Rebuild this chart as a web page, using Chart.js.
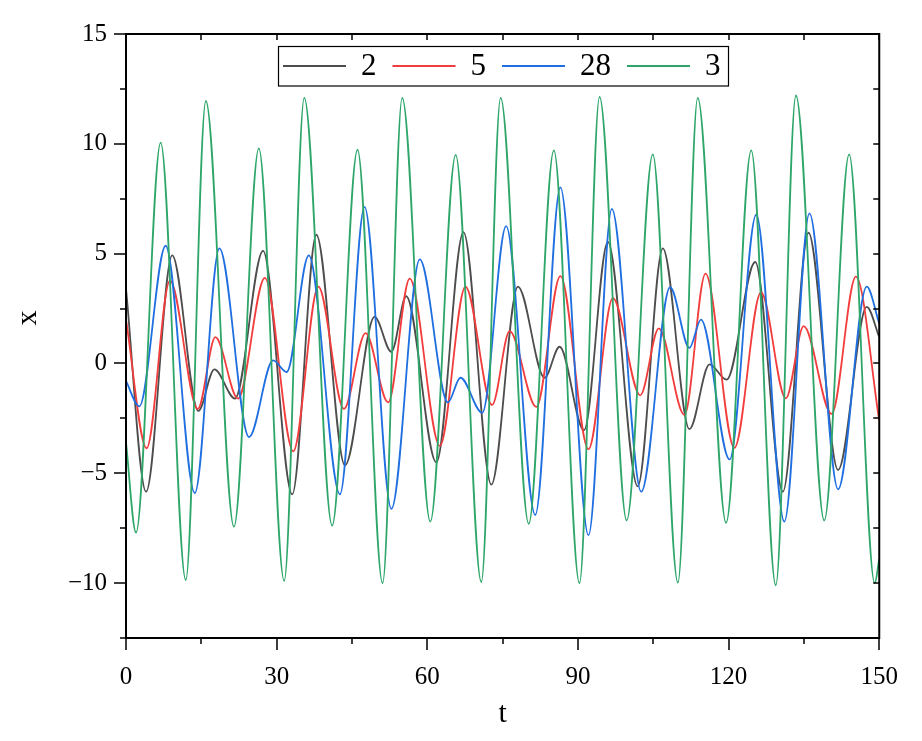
<!DOCTYPE html>
<html>
<head>
<meta charset="utf-8">
<script src="https://cdn.jsdelivr.net/npm/chart.js@4"></script>
<style>
html,body{margin:0;padding:0;background:#fff;}
#wrap{width:922px;height:741px;position:relative;}
</style>
</head>
<body>
<div id="wrap"><canvas id="c" width="922" height="741"></canvas></div>
<script>
// ---- data (extrema of each curve) ----
const labels = ['2', '5', '28', '3'];
const colors = ['#4d4d4d', '#f23d3d', '#1f6fe0', '#2ea66a'];

const t2 = [0, 4.0, 9.2, 14.4, 17.6, 21.7, 27.3, 33.1, 37.9, 43.6, 49.5, 52.85, 55.8, 61.8, 67.2, 72.75, 78.05, 83.35, 86.35, 91.2, 95.95, 101.9, 106.9, 112.2, 116.2, 119.6, 125.3, 130.8, 135.9, 141.8, 147.5, 150];
const x2 = [3.4, -5.84, 4.92, -2.16, -0.27, -1.6, 5.13, -5.96, 5.86, -4.64, 2.12, 0.53, 3.06, -4.5, 5.98, -5.52, 3.5, -0.65, 0.76, -3.04, 5.54, -5.6, 5.24, -2.99, -0.04, -0.74, 4.62, -5.84, 5.95, -4.85, 2.58, 1.2];

const t5 = [0, 4.1, 8.75, 14.3, 17.8, 22.3, 27.65, 33.3, 38.3, 43.4, 47.7, 52.2, 56.5, 62.5, 67.6, 72.9, 76.4, 81.7, 86.5, 92.1, 96.95, 102.4, 106.1, 111.2, 115.4, 121.15, 126.45, 131.4, 134.95, 140.5, 145.35, 150];
const x5 = [2.0, -3.86, 3.77, -2.07, 1.2, -1.6, 3.9, -4.0, 3.5, -2.07, 1.38, -1.77, 3.86, -3.75, 3.5, -1.89, 1.47, -1.98, 3.98, -3.9, 2.97, -1.45, 1.6, -2.34, 4.09, -3.84, 3.24, -1.59, 1.7, -2.3, 3.95, -2.6];

const t28 = [0, 2.65, 7.9, 13.7, 18.6, 24.5, 29.3, 32.0, 36.4, 42.6, 47.5, 52.85, 58.5, 64.1, 66.6, 70.95, 75.7, 81.5, 86.5, 92.1, 96.75, 102.6, 108.35, 112.2, 114.5, 120.2, 125.5, 131.1, 136.1, 141.8, 147.5, 150];
const x28 = [-0.8, -1.95, 5.36, -5.9, 5.24, -3.35, 0.14, -0.39, 4.92, -5.96, 7.13, -6.62, 4.74, -1.77, -0.65, -2.25, 6.25, -6.9, 8.02, -7.82, 7.04, -5.84, 3.47, 0.71, 2.0, -4.37, 6.78, -7.2, 6.83, -5.73, 3.5, 1.82];

const t3 = [0, 2.0, 6.9, 11.9, 15.9, 21.5, 26.45, 31.5, 35.5, 41.05, 46.1, 51.1, 55.0, 60.6, 65.65, 70.75, 74.6, 80.2, 85.2, 90.3, 94.3, 99.7, 104.9, 109.9, 113.85, 119.5, 124.5, 129.4, 133.4, 139.05, 144.0, 149.1, 150];
const x3 = [-3.6, -7.7, 10.05, -9.86, 11.95, -7.43, 9.79, -9.9, 12.09, -7.38, 9.73, -10.0, 12.09, -7.2, 9.5, -9.95, 12.09, -7.3, 9.7, -10.0, 12.14, -7.15, 9.52, -9.98, 12.09, -7.26, 9.7, -10.1, 12.2, -7.15, 9.52, -10.0, -8.9];

const xTicks = [0, 30, 60, 90, 120, 150];
const xMinorTicks = [15, 45, 75, 105, 135];
const yTicks = [-10, -5, 0, 5, 10, 15];
const yMinorTicks = [-12.5, -7.5, -2.5, 2.5, 7.5, 12.5];

const series = [[t2, x2], [t5, x5], [t28, x28], [t3, x3]];
const FONT = "'Liberation Serif', 'DejaVu Serif', serif";

const datasets = series.map((s, i) => ({
  label: labels[i],
  data: s[0].map((t, k) => ({x: t, y: s[1][k]})),
  borderColor: colors[i],
  backgroundColor: colors[i],
  borderWidth: 1.8,
  pointRadius: 0,
  cubicInterpolationMode: 'monotone',
  fill: false,
  order: 4 - i
}));

const fmt = v => (v < 0 ? '\u2212' + Math.abs(v) : String(v));

const framePlugin = {
  id: 'frame',
  afterDraw(chart) {
    const ctx = chart.ctx;
    const a = chart.chartArea;
    const xs = chart.scales.x, ys = chart.scales.y;
    ctx.save();
    ctx.strokeStyle = '#000';
    ctx.lineWidth = 2;
    ctx.beginPath();
    ctx.rect(a.left, a.top, a.right - a.left, a.bottom - a.top);
    ctx.stroke();
    ctx.lineWidth = 1.5;
    ctx.beginPath();
    xTicks.forEach(v => { const p = Math.round(xs.getPixelForValue(v)) ; ctx.moveTo(p, a.bottom); ctx.lineTo(p, a.bottom + 12); });
    xMinorTicks.forEach(v => { const p = Math.round(xs.getPixelForValue(v)); ctx.moveTo(p, a.bottom); ctx.lineTo(p, a.bottom + 6); });
    xTicks.concat(xMinorTicks).forEach(v => { const p = Math.round(xs.getPixelForValue(v)); ctx.moveTo(p, a.top); ctx.lineTo(p, a.top + 6); });
    yTicks.forEach(v => { const p = Math.round(ys.getPixelForValue(v)); ctx.moveTo(a.left, p); ctx.lineTo(a.left - 12, p); });
    yMinorTicks.forEach(v => { const p = Math.round(ys.getPixelForValue(v)); ctx.moveTo(a.left, p); ctx.lineTo(a.left - 6, p); });
    yTicks.concat(yMinorTicks).forEach(v => { const p = Math.round(ys.getPixelForValue(v)); ctx.moveTo(a.right, p); ctx.lineTo(a.right - 6, p); });
    ctx.stroke();

    ctx.fillStyle = '#000';
    ctx.font = '30px ' + FONT;
    ctx.textAlign = 'center';
    ctx.textBaseline = 'middle';
    ctx.fillText('t', (a.left + a.right) / 2, 714);
    ctx.save();
    ctx.translate(28, 318);
    ctx.rotate(-Math.PI / 2);
    ctx.fillText('x', 0, 0);
    ctx.restore();

    const bx = 278.5, by = 46.5, bw = 450, bh = 39.5;
    ctx.fillStyle = '#fff';
    ctx.fillRect(bx, by, bw, bh);
    ctx.lineWidth = 1.2;
    ctx.strokeStyle = '#000';
    ctx.strokeRect(bx, by, bw, bh);
    ctx.font = '31px ' + FONT;
    ctx.textAlign = 'left';
    ctx.textBaseline = 'middle';
    let x = 283;
    const ly = 66;
    chart.data.datasets.forEach((ds, i) => {
      ctx.strokeStyle = ds.borderColor;
      ctx.lineWidth = 2;
      ctx.beginPath();
      ctx.moveTo(x, ly);
      ctx.lineTo(x + 63, ly);
      ctx.stroke();
      x += 63 + 15;
      ctx.fillStyle = '#000';
      ctx.fillText(ds.label, x, ly + 1);
      x += ctx.measureText(ds.label).width + 16;
    });
    ctx.restore();
  }
};

new Chart(document.getElementById('c'), {
  type: 'line',
  data: { datasets },
  options: {
    responsive: false,
    animation: false,
    devicePixelRatio: 1,
    layout: { padding: { top: 33, right: 42, left: 0, bottom: 0 } },
    plugins: { legend: { display: false }, tooltip: { enabled: false } },
    scales: {
      x: {
        type: 'linear',
        min: 0, max: 150,
        grid: { display: false, drawTicks: false },
        border: { display: false },
        ticks: {
          stepSize: 30,
          autoSkip: false,
          maxRotation: 0,
          padding: 24,
          color: '#000',
          font: { family: FONT, size: 25 },
          callback: v => fmt(v)
        },
        afterFit: s => { s.height = 741 - 638; }
      },
      y: {
        type: 'linear',
        min: -12.5, max: 15,
        grid: { display: false, drawTicks: false },
        border: { display: false },
        ticks: {
          stepSize: 2.5,
          autoSkip: false,
          padding: 19,
          color: '#000',
          font: { family: FONT, size: 25 },
          callback: v => (Math.abs(v % 5) < 1e-9 ? fmt(v) : '')
        },
        afterFit: s => { s.width = 126; }
      }
    }
  },
  plugins: [framePlugin]
});
</script>
</body>
</html>
